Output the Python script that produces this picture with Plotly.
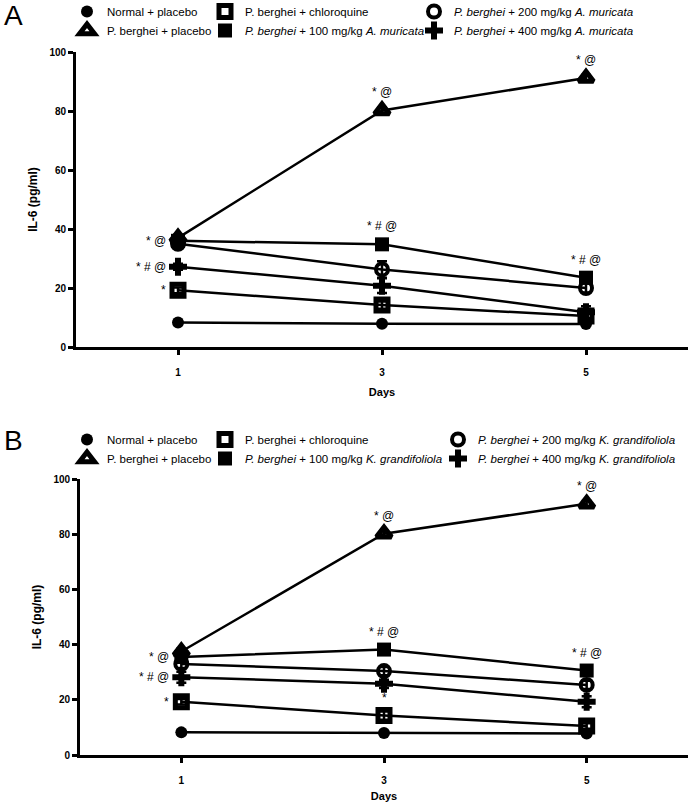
import plotly.graph_objects as go

days = [1, 3, 5]
day_labels = ["1", "3", "5"]
y_ticks = [0, 20, 40, 60, 80, 100]

# Panel A (A. muricata)
normal_A = [8.3, 7.9, 7.8]
placebo_A = [37.0, 80.2, 91.2]
chloroquine_A = [19.2, 14.2, 10.5]
am100_A = [36.0, 34.8, 23.5]
am200_A = [35.0, 26.3, 20.0]
am400_A = [27.2, 20.8, 11.8]
err_normal_A = [0.6, 0.4, 0.4]
err_placebo_A = [1.0, 1.0, 1.0]
err_chloro_A = [1.0, 1.2, 1.0]
err_100_A = [1.0, 1.0, 1.5]
err_200_A = [1.5, 2.8, 1.5]
err_400_A = [1.0, 2.5, 2.0]

# Panel B (K. grandifoliola)
normal_B = [8.2, 8.0, 7.8]
placebo_B = [37.5, 80.2, 91.0]
chloroquine_B = [19.3, 14.3, 10.5]
kg100_B = [35.5, 38.2, 30.6]
kg200_B = [33.0, 30.4, 25.4]
kg400_B = [28.2, 25.8, 19.3]
err_normal_B = [0.6, 0.4, 0.4]
err_placebo_B = [1.0, 1.0, 1.0]
err_chloro_B = [1.0, 1.5, 1.0]
err_100_B = [1.0, 1.0, 1.5]
err_200_B = [1.5, 1.5, 1.5]
err_400_B = [2.0, 1.5, 2.0]

names_A = ["Normal + placebo", "P. berghei + placebo", "P. berghei + chloroquine",
           "<i>P. berghei</i> + 100 mg/kg <i>A. muricata</i>",
           "<i>P. berghei</i> + 200 mg/kg <i>A. muricata</i>",
           "<i>P. berghei</i> + 400 mg/kg <i>A. muricata</i>"]
names_B = ["Normal + placebo", "P. berghei + placebo", "P. berghei + chloroquine",
           "<i>P. berghei</i> + 100 mg/kg <i>K. grandifoliola</i>",
           "<i>P. berghei</i> + 200 mg/kg <i>K. grandifoliola</i>",
           "<i>P. berghei</i> + 400 mg/kg <i>K. grandifoliola</i>"]

# significance labels: (series index, day index, text, position)
sig_A = [(3, 0, "* @", "left"), (5, 0, "* # @", "left"), (2, 0, "*", "left"),
         (1, 1, "* @", "top"), (1, 2, "* @", "top"),
         (3, 1, "* # @", "top"), (3, 2, "* # @", "top")]
sig_B = [(3, 0, "* @", "left"), (5, 0, "* # @", "left"), (2, 0, "*", "left"),
         (1, 1, "* @", "top"), (1, 2, "* @", "top"),
         (3, 1, "* # @", "top"), (3, 2, "* # @", "top"), (2, 1, "*", "top")]

FONT = "Liberation Sans, Arial, sans-serif"

styles = [
    dict(symbol="circle", size=12, color="black", line=dict(width=0)),
    dict(symbol="triangle-up-open", size=13, color="black", line=dict(width=5, color="black")),
    dict(symbol="square-open", size=12, color="black", line=dict(width=5, color="black")),
    dict(symbol="square", size=14, color="black", line=dict(width=0)),
    dict(symbol="circle-open", size=12, color="black", line=dict(width=4, color="black")),
    dict(symbol="cross", size=15, color="black", line=dict(width=0)),
]

series_A = [normal_A, placebo_A, chloroquine_A, am100_A, am200_A, am400_A]
errs_A = [err_normal_A, err_placebo_A, err_chloro_A, err_100_A, err_200_A, err_400_A]
series_B = [normal_B, placebo_B, chloroquine_B, kg100_B, kg200_B, kg400_B]
errs_B = [err_normal_B, err_placebo_B, err_chloro_B, err_100_B, err_200_B, err_400_B]

fig = go.Figure()
legend_of = [0, 0, 1, 1, 2, 2]

def add_panel(series, errs, names, xa, ya, leg_offset):
    # connecting lines (no legend entry)
    for vals in series:
        fig.add_trace(go.Scatter(
            x=days, y=vals, mode="lines", line=dict(color="black", width=2.5),
            xaxis=xa, yaxis=ya, showlegend=False, hoverinfo="skip", cliponaxis=False))
    # markers with error bars (legend entries)
    for i, (vals, er, nm) in enumerate(zip(series, errs, names)):
        lg = leg_offset + legend_of[i]
        fig.add_trace(go.Scatter(
            x=days, y=vals, name=nm, mode="markers",
            marker=styles[i],
            error_y=dict(type="data", array=er, color="black", thickness=2.5, width=5),
            xaxis=xa, yaxis=ya, cliponaxis=False,
            legend="legend" if lg == 1 else f"legend{lg}",
        ))

add_panel(series_A, errs_A, names_A, "x", "y", 1)
add_panel(series_B, errs_B, names_B, "x2", "y2", 4)

annots = []
def add_sig(sig, series, xref, yref):
    for si, di, txt, pos in sig:
        a = dict(x=days[di], y=series[si][di], xref=xref, yref=yref, text=txt,
                 showarrow=False, font=dict(family=FONT, size=12, color="black"))
        if pos == "left":
            a.update(xanchor="right", yanchor="middle", xshift=-10)
        else:
            a.update(xanchor="center", yanchor="bottom", yshift=9)
        annots.append(a)

add_sig(sig_A, series_A, "x", "y")
add_sig(sig_B, series_B, "x2", "y2")

W, H = 688, 802
annots.append(dict(x=2/W, y=1, xref="paper", yref="paper", text="A", showarrow=False,
                   xanchor="left", yanchor="top", yshift=2, font=dict(family=FONT, size=28, color="black")))
annots.append(dict(x=2/W, y=1 - 440/H, xref="paper", yref="paper", text="B", showarrow=False,
                   xanchor="left", yanchor="middle", font=dict(family=FONT, size=28, color="black")))

axis_common = dict(showgrid=False, zeroline=False, showline=True, linecolor="black", linewidth=2.8,
                   ticks="outside", ticklen=5, tickwidth=2.5, tickcolor="black", automargin=False,
                   tickfont=dict(family=FONT, size=10, color="black"))

xax = dict(range=[0, 6], tickvals=days, ticktext=[f"<b>{d}</b>" for d in day_labels],
           ticklabelstandoff=9,
           title=dict(text="<b>Days</b>", font=dict(family=FONT, size=11, color="black"), standoff=12))
yax = dict(range=[0, 100], tickvals=y_ticks,
           ticktext=[f"<b>{t}</b>" for t in y_ticks],
           title=dict(text="<b>IL-6 (pg/ml)</b>", font=dict(family=FONT, size=12, color="black"), standoff=10))

fig.update_layout(
    width=W, height=H, margin=dict(l=0, r=0, t=0, b=0, autoexpand=False),
    plot_bgcolor="white", paper_bgcolor="white",
    xaxis=dict(**axis_common, **xax, domain=[76/W, 1], anchor="y"),
    yaxis=dict(**axis_common, **yax, domain=[1 - 347/H, 1 - 52/H], anchor="x"),
    xaxis2=dict(**axis_common, **xax, domain=[80/W, 1], anchor="y2"),
    yaxis2=dict(**axis_common, **yax, domain=[1 - 755/H, 1 - 479/H], anchor="x2"),
    annotations=annots,
)

leg_font = dict(family=FONT, size=11.5, color="black")
leg_x = [[67/W, 205/W, 414/W], [67/W, 205/W, 438/W]]
for k in range(6):
    panel = k // 3
    col = k % 3
    ytop = -3 if panel == 0 else 425
    key = "legend" if k == 0 else f"legend{k+1}"
    fig.update_layout({key: dict(x=leg_x[panel][col], y=1 - ytop/H, xanchor="left", yanchor="top",
                                 orientation="v", font=leg_font, bgcolor="rgba(0,0,0,0)",
                                 tracegroupgap=0, itemwidth=30)})

fig.write_html("out.html", config={"displayModeBar": False},
               post_script="document.body.style.margin='0';")
